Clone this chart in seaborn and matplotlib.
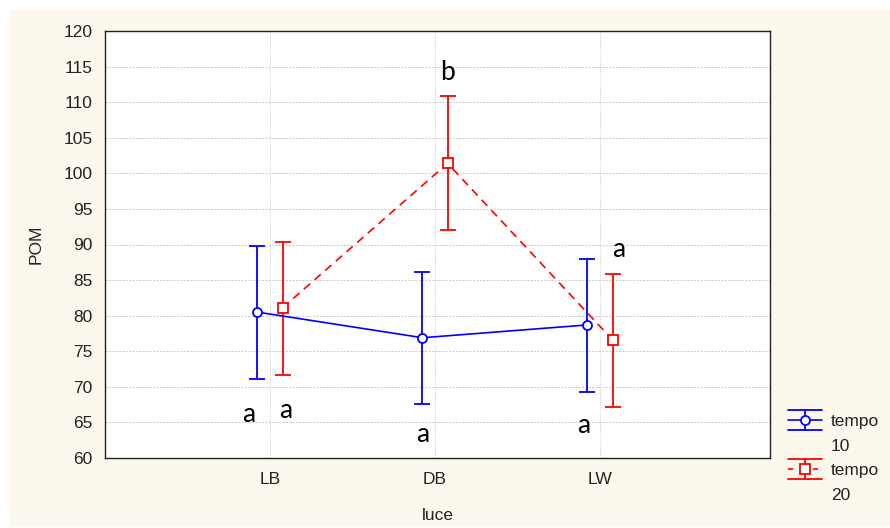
import numpy as np
import pandas as pd
import matplotlib
matplotlib.use("Agg")
import matplotlib.pyplot as plt
from matplotlib.patches import Rectangle
from matplotlib.lines import Line2D
import seaborn as sns

# ---- data ----
categories = ["LB", "DB", "LW"]
tempo_levels = ["10", "20"]
mean_t10 = [80.5, 76.9, 78.7]
low_t10 = [71.1, 67.6, 69.3]
high_t10 = [89.8, 86.2, 87.9]
mean_t20 = [81.1, 101.4, 76.6]
low_t20 = [71.7, 92.1, 67.1]
high_t20 = [90.3, 110.8, 85.8]
yticks = list(range(60, 121, 5))
letters = ["a", "a", "b", "a", "a", "a"]
letter_x = [-0.127, 0.097, 1.073, 0.927, 1.90, 2.11]
letter_y = [65.1, 65.6, 113.1, 62.2, 63.5, 88.2]

colors = {"10": "#0000ff", "20": "#ff0000"}
markers = {"10": "o", "20": "s"}
offsets = {"10": -0.076, "20": 0.076}
DASH = (5, 3.5)

rows = []
for t, m in zip(tempo_levels, [mean_t10, mean_t20]):
    for i, c in enumerate(categories):
        rows.append({"pos": i + offsets[t], "POM": m[i], "tempo": t})
df = pd.DataFrame(rows)

sns.set_style("white")
plt.rcParams["font.family"] = ["Liberation Sans", "DejaVu Sans"]

fig = plt.figure(figsize=(8.9, 5.28), dpi=100)
fig.patch.set_facecolor("white")
fig.patches.append(Rectangle((9 / 890, 2 / 528), 1, 516 / 528, transform=fig.transFigure,
                             facecolor="#fdf8ee", edgecolor="none", zorder=-10))
ax = fig.add_axes([105 / 890, (528 - 458) / 528, (770 - 105) / 890, (458 - 31) / 528])
ax.set_facecolor("white")

# error bars
for t, m, lo, hi in zip(tempo_levels, [mean_t10, mean_t20], [low_t10, low_t20], [high_t10, high_t20]):
    m = np.array(m); lo = np.array(lo); hi = np.array(hi)
    x = np.arange(len(categories)) + offsets[t]
    ax.errorbar(x, m, yerr=[m - lo, hi - m], fmt="none", ecolor=colors[t],
                elinewidth=1.3, capsize=6, capthick=1.3, zorder=2)

n_before = len(ax.get_lines())
sns.lineplot(data=df, x="pos", y="POM", hue="tempo", style="tempo",
             palette=colors, markers=markers,
             dashes={"10": "", "20": DASH}, markersize=6.5,
             markeredgewidth=1.3, linewidth=1.2,
             legend=False, ax=ax, zorder=3)
for ln in ax.get_lines()[n_before:]:
    c = ln.get_color()
    ln.set_markeredgecolor(c)
    ln.set_markerfacecolor("white")

ax.set_xlim(-1, 3.03)
ax.set_ylim(60, 120)
ax.set_yticks(yticks)
ax.set_xticks(range(len(categories)))
ax.set_xticklabels(categories)
ax.tick_params(axis="both", direction="in", length=4, width=0.8, color="black",
               labelsize=12.5, labelcolor="#222222")
ax.tick_params(axis="x", pad=10)
ax.tick_params(axis="y", pad=9)

# grid
for y in yticks[1:-1]:
    ax.axhline(y, color="#c8c8c8", linewidth=0.7, linestyle=(0, (2, 1.5)), zorder=0.5)
for xg in range(len(categories)):
    ax.axvline(xg, color="#c8c8c8", linewidth=0.7, linestyle=(0, (1, 1.5)), zorder=0.5)

for s in ax.spines.values():
    s.set_visible(True)
    s.set_color("#222222")
    s.set_linewidth(1.0)

ax.set_xlabel("luce", fontsize=12.5, color="#222222")
ax.set_ylabel("POM", fontsize=12.5, color="#222222")
ax.xaxis.set_label_coords(0.5, -0.117)
ax.yaxis.set_label_coords(-0.093, 0.5)

for lt, lx, ly in zip(letters, letter_x, letter_y):
    ax.text(lx, ly, lt, fontsize=19, family="Lato", ha="center", va="baseline",
            color="black", zorder=5)


# ---- legend with custom errorbar-style handles ----
class ErrHandle:
    def __init__(self, color, ls, marker):
        self.color, self.ls, self.marker = color, ls, marker


class ErrHandler:
    def legend_artist(self, legend, orig_handle, fontsize, handlebox):
        x0, y0 = -handlebox.xdescent, -handlebox.ydescent
        w, h = handlebox.width, handlebox.height
        yc = y0 + h / 2
        xc = x0 + w / 2
        half = 7.3
        c = orig_handle.color
        tr = handlebox.get_transform()
        arts = [
            Line2D([x0, x0 + w], [yc, yc], color=c, lw=1.2, linestyle=orig_handle.ls),
            Line2D([xc, xc], [yc - half, yc + half], color=c, lw=1.3),
            Line2D([x0, x0 + w], [yc + half, yc + half], color=c, lw=1.3),
            Line2D([x0, x0 + w], [yc - half, yc - half], color=c, lw=1.3),
            Line2D([xc], [yc], marker=orig_handle.marker, markersize=6.5,
                   markerfacecolor="white", markeredgecolor=c, markeredgewidth=1.3,
                   linestyle="none"),
        ]
        for a in arts:
            a.set_transform(tr)
            handlebox.add_artist(a)
        return arts[0]


h10 = ErrHandle(colors["10"], "-", markers["10"])
h20 = ErrHandle(colors["20"], (0, (3, 4.5)), markers["20"])
blank = Line2D([], [], linestyle="none", marker=None)
handles = [h10, blank, h20, blank]
labels = ["tempo", "10", "tempo", "20"]
leg = fig.legend(handles, labels, loc="upper left", bbox_to_anchor=(779 / 890, 1 - 405 / 528),
                 frameon=False, fontsize=12.5, handlelength=2.0, handletextpad=0.5,
                 labelspacing=0.55, borderpad=0, handler_map={ErrHandle: ErrHandler()})
for txt in leg.get_texts():
    txt.set_color("#222222")

fig.savefig("out.png", dpi=100, facecolor=fig.get_facecolor())
